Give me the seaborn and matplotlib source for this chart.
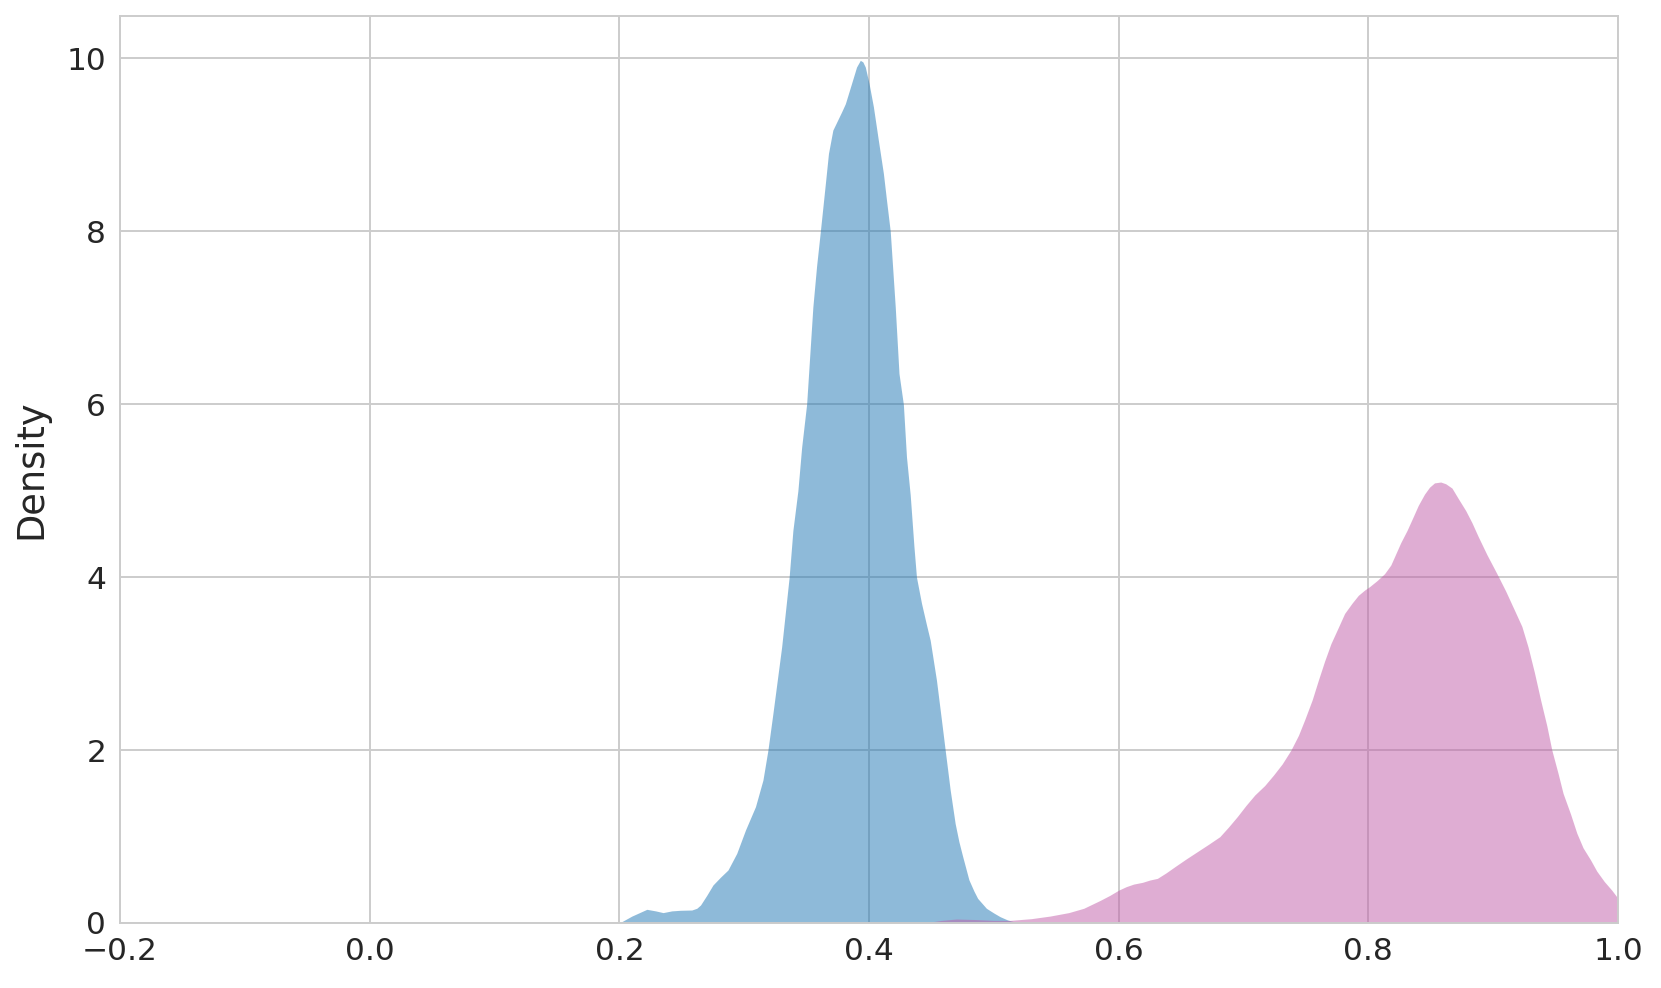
import matplotlib
matplotlib.use('Agg')
import matplotlib.pyplot as plt
import seaborn as sns

# density curves (x, density)
BLUE_X = [0.200, 0.210, 0.222, 0.229, 0.235, 0.242, 0.249, 0.258, 0.262, 0.265,
          0.270, 0.275, 0.281, 0.287, 0.294, 0.301, 0.309, 0.315, 0.319, 0.323,
          0.330, 0.336, 0.339, 0.343, 0.346, 0.350, 0.355, 0.358, 0.361, 0.365,
          0.3675, 0.371, 0.375, 0.378, 0.381, 0.386, 0.390, 0.393, 0.395, 0.397,
          0.400, 0.4035, 0.4075, 0.4115, 0.414, 0.417, 0.421, 0.424, 0.4275, 0.430,
          0.433, 0.436, 0.438, 0.442, 0.446, 0.449, 0.454, 0.458, 0.461, 0.465,
          0.469, 0.472, 0.475, 0.480, 0.484, 0.487, 0.494, 0.500, 0.505, 0.511,
          0.516, 0.521]
BLUE_Y = [0.0, 0.08, 0.158, 0.14, 0.12, 0.14, 0.147, 0.15, 0.17, 0.208,
          0.32, 0.44, 0.53, 0.613, 0.805, 1.075, 1.345, 1.653, 2.0, 2.424,
          3.194, 4.0, 4.54, 5.0, 5.5, 6.0, 7.125, 7.6, 8.0, 8.55,
          8.9, 9.17, 9.29, 9.38, 9.475, 9.71, 9.9, 9.977, 9.96, 9.9,
          9.71, 9.44, 9.05, 8.67, 8.36, 8.0, 7.125, 6.355, 6.0, 5.39,
          4.95, 4.35, 4.0, 3.70, 3.45, 3.27, 2.81, 2.35, 2.0, 1.54,
          1.15, 0.94, 0.77, 0.50, 0.37, 0.285, 0.17, 0.115, 0.073, 0.035,
          0.015, 0.0]

PINK_X = [0.444, 0.458, 0.470, 0.485, 0.500, 0.513, 0.530, 0.545, 0.560, 0.572,
          0.585, 0.593, 0.600, 0.606, 0.612, 0.619, 0.625, 0.631, 0.638, 0.645,
          0.654, 0.663, 0.672, 0.681, 0.688, 0.695, 0.702, 0.709, 0.717, 0.724,
          0.731, 0.738, 0.744, 0.749, 0.755, 0.760, 0.765, 0.770, 0.776, 0.781,
          0.787, 0.792, 0.797, 0.801, 0.807, 0.813, 0.818, 0.822, 0.826, 0.831,
          0.836, 0.840, 0.845, 0.849, 0.853, 0.858, 0.862, 0.867, 0.872, 0.878,
          0.883, 0.888, 0.895, 0.903, 0.910, 0.917, 0.923, 0.928, 0.933, 0.938,
          0.943, 0.947, 0.952, 0.956, 0.962, 0.967, 0.972, 0.978, 0.983, 0.989,
          0.995, 1.000]
PINK_Y = [0.0, 0.03, 0.046, 0.04, 0.03, 0.03, 0.05, 0.08, 0.12, 0.17,
          0.26, 0.32, 0.38, 0.42, 0.45, 0.47, 0.497, 0.516, 0.58, 0.651,
          0.74, 0.825, 0.91, 0.998, 1.11, 1.23, 1.36, 1.48, 1.59, 1.71,
          1.84, 2.0, 2.17, 2.35, 2.58, 2.81, 3.03, 3.23, 3.42, 3.58,
          3.70, 3.79, 3.85, 3.89, 3.96, 4.04, 4.14, 4.27, 4.40, 4.54,
          4.70, 4.83, 4.96, 5.04, 5.09, 5.10, 5.08, 5.03, 4.91, 4.77,
          4.63, 4.47, 4.26, 4.04, 3.84, 3.62, 3.43, 3.19, 2.90, 2.58,
          2.28, 2.0, 1.73, 1.50, 1.26, 1.04, 0.87, 0.73, 0.60, 0.48,
          0.38, 0.285]

X_TICKS = [-0.2, 0.0, 0.2, 0.4, 0.6, 0.8, 1.0]
Y_TICKS = [0, 2, 4, 6, 8, 10]

BLUE = '#1f77b4'
PINK = '#c15da9'


def main():
    sns.set_theme(style='whitegrid')
    plt.rcParams['font.family'] = ['DejaVu Sans']

    fig, ax = plt.subplots(figsize=(16.61, 9.88), dpi=100)
    fig.subplots_adjust(left=0.0723, right=0.9741, top=0.9838, bottom=0.0658)

    ax.fill_between(BLUE_X, BLUE_Y, color=BLUE, alpha=0.5, linewidth=0)
    ax.fill_between(PINK_X, PINK_Y, color=PINK, alpha=0.5, linewidth=0)

    ax.set_xlim(-0.2, 1.0)
    ax.set_ylim(0, 10.49)
    ax.set_xticks(X_TICKS)
    ax.set_yticks(Y_TICKS)
    ax.set_ylabel('Density', fontsize=26.5, labelpad=12)
    ax.tick_params(labelsize=22.5, length=0, pad=10, colors='#262626')
    ax.grid(True, color='#cccccc', linewidth=1.4)
    for s in ax.spines.values():
        s.set_color('#cccccc')
        s.set_linewidth(1.4)

    fig.savefig('out.png', dpi=100)
    plt.close(fig)


if __name__ == '__main__':
    main()
